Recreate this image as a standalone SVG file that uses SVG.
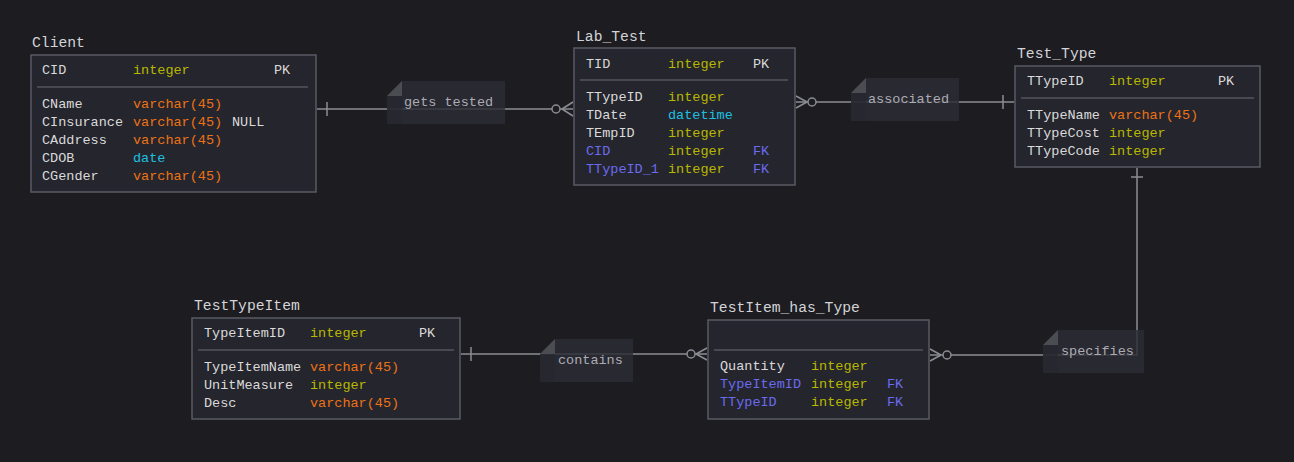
<svg xmlns="http://www.w3.org/2000/svg" width="1294" height="462" viewBox="0 0 1294 462">
<style>
.bg{fill:#1c1c21}
.tbl{fill:#25252d;stroke:#5a5a64;stroke-width:1.5}
.sep{stroke:#55555e;stroke-width:1.5}
text{font-family:"Liberation Mono","DejaVu Sans Mono",monospace;font-size:13.5px;dominant-baseline:central}
.title{font-size:14.7px;fill:#d4d4d8;dominant-baseline:auto}
.n{fill:#dadada}
.fk{fill:#6b6bf0}
.int{fill:#b8b800}
.vc{fill:#ec7216}
.dt{fill:#1ec0e0}
.k{fill:#dadada}
.conn{stroke:#8c8c94;stroke-width:1.5;fill:none}
.circ{stroke:#8c8c94;stroke-width:1.5;fill:#1c1c21}
.note{fill:#2c2c35;fill-opacity:0.82}
.flap{fill:#4c4c53}
.strip{fill:#26262e;fill-opacity:0.6}
.lbl{fill:#acacb4}
</style>
<rect class="bg" x="0" y="0" width="1294" height="462"/>

<g id="connectors">
  <!-- Client - Lab_Test -->
  <path class="conn" d="M317,109 H573"/>
  <path class="conn" d="M327,102 V116"/>
  <path class="conn" d="M562,109 L573,102 M562,109 L573,116"/>
  <circle class="circ" cx="556" cy="109" r="4"/>
  <!-- Lab_Test - Test_Type -->
  <path class="conn" d="M796,102 H1014"/>
  <path class="conn" d="M807,102 L796,96 M807,102 L796,108"/>
  <circle class="circ" cx="812" cy="102" r="4"/>
  <path class="conn" d="M1003,95 V109"/>
  <!-- TestTypeItem - TestItem_has_Type -->
  <path class="conn" d="M461,354 H707"/>
  <path class="conn" d="M471,347 V361"/>
  <path class="conn" d="M696,354 L707,348 M696,354 L707,360"/>
  <circle class="circ" cx="691" cy="354" r="4"/>
  <!-- TestItem_has_Type - Test_Type -->
  <path class="conn" d="M930,355 H1137 V168"/>
  <path class="conn" d="M941,355 L930,349 M941,355 L930,361"/>
  <circle class="circ" cx="947" cy="355" r="4"/>
  <path class="conn" d="M1131,177 H1143"/>
</g>

<g id="label-gets-tested">
  <path class="note" d="M402,81 H505 V124 H387 V96 Z"/>
  <rect class="strip" x="387" y="96" width="15" height="28"/>
  <path class="flap" d="M387,96 L402,81 L402,96 Z"/>
  <text class="lbl" x="404" y="102">gets tested</text>
</g>
<g id="label-associated">
  <path class="note" d="M866,78 H959 V121 H851 V93 Z"/>
  <rect class="strip" x="851" y="93" width="15" height="28"/>
  <path class="flap" d="M851,93 L866,78 L866,93 Z"/>
  <text class="lbl" x="868" y="99">associated</text>
</g>
<g id="label-contains">
  <path class="note" d="M555,339 H633 V382 H540 V354 Z"/>
  <rect class="strip" x="540" y="354" width="15" height="28"/>
  <path class="flap" d="M540,354 L555,339 L555,354 Z"/>
  <text class="lbl" x="558" y="360">contains</text>
</g>
<g id="label-specifies">
  <path class="note" d="M1058,330 H1144 V373 H1043 V345 Z"/>
  <rect class="strip" x="1043" y="345" width="15" height="28"/>
  <path class="flap" d="M1043,345 L1058,330 L1058,345 Z"/>
  <text class="lbl" x="1061" y="351">specifies</text>
</g>

<g id="Client">
  <text class="title" x="32" y="47">Client</text>
  <rect class="tbl" x="31" y="55" width="285" height="137"/>
  <text class="n" x="42" y="70">CID</text><text class="int" x="133" y="70">integer</text><text class="k" x="274" y="70">PK</text>
  <line class="sep" x1="37" y1="87" x2="308" y2="87"/>
  <text class="n" x="42" y="104">CName</text><text class="vc" x="133" y="104">varchar(45)</text>
  <text class="n" x="42" y="122">CInsurance</text><text class="vc" x="133" y="122">varchar(45)</text><text class="k" x="232" y="122">NULL</text>
  <text class="n" x="42" y="140">CAddress</text><text class="vc" x="133" y="140">varchar(45)</text>
  <text class="n" x="42" y="158">CDOB</text><text class="dt" x="133" y="158">date</text>
  <text class="n" x="42" y="176">CGender</text><text class="vc" x="133" y="176">varchar(45)</text>
</g>

<g id="Lab_Test">
  <text class="title" x="576" y="41">Lab_Test</text>
  <rect class="tbl" x="574" y="48" width="221" height="137"/>
  <text class="n" x="586" y="64">TID</text><text class="int" x="668" y="64">integer</text><text class="k" x="753" y="64">PK</text>
  <line class="sep" x1="580" y1="80" x2="788" y2="80"/>
  <text class="n" x="586" y="97">TTypeID</text><text class="int" x="668" y="97">integer</text>
  <text class="n" x="586" y="115">TDate</text><text class="dt" x="668" y="115">datetime</text>
  <text class="n" x="586" y="133">TEmpID</text><text class="int" x="668" y="133">integer</text>
  <text class="fk" x="586" y="151">CID</text><text class="int" x="668" y="151">integer</text><text class="fk" x="753" y="151">FK</text>
  <text class="fk" x="586" y="169">TTypeID_1</text><text class="int" x="668" y="169">integer</text><text class="fk" x="753" y="169">FK</text>
</g>

<g id="Test_Type">
  <text class="title" x="1017" y="58">Test_Type</text>
  <rect class="tbl" x="1015" y="66" width="245" height="101"/>
  <text class="n" x="1027" y="81">TTypeID</text><text class="int" x="1109" y="81">integer</text><text class="k" x="1218" y="81">PK</text>
  <line class="sep" x1="1021" y1="98" x2="1254" y2="98"/>
  <text class="n" x="1027" y="115">TTypeName</text><text class="vc" x="1109" y="115">varchar(45)</text>
  <text class="n" x="1027" y="133">TTypeCost</text><text class="int" x="1109" y="133">integer</text>
  <text class="n" x="1027" y="151">TTypeCode</text><text class="int" x="1109" y="151">integer</text>
</g>

<g id="TestTypeItem">
  <text class="title" x="194" y="310">TestTypeItem</text>
  <rect class="tbl" x="192" y="318" width="268" height="101"/>
  <text class="n" x="204" y="333">TypeItemID</text><text class="int" x="310" y="333">integer</text><text class="k" x="419" y="333">PK</text>
  <line class="sep" x1="198" y1="350" x2="454" y2="350"/>
  <text class="n" x="204" y="367">TypeItemName</text><text class="vc" x="310" y="367">varchar(45)</text>
  <text class="n" x="204" y="385">UnitMeasure</text><text class="int" x="310" y="385">integer</text>
  <text class="n" x="204" y="403">Desc</text><text class="vc" x="310" y="403">varchar(45)</text>
</g>

<g id="TestItem_has_Type">
  <text class="title" x="710" y="312">TestItem_has_Type</text>
  <rect class="tbl" x="708" y="320" width="221" height="99"/>
  <line class="sep" x1="714" y1="350" x2="923" y2="350"/>
  <text class="n" x="720" y="366">Quantity</text><text class="int" x="811" y="366">integer</text>
  <text class="fk" x="720" y="384">TypeItemID</text><text class="int" x="811" y="384">integer</text><text class="fk" x="887" y="384">FK</text>
  <text class="fk" x="720" y="402">TTypeID</text><text class="int" x="811" y="402">integer</text><text class="fk" x="887" y="402">FK</text>
</g>
</svg>
